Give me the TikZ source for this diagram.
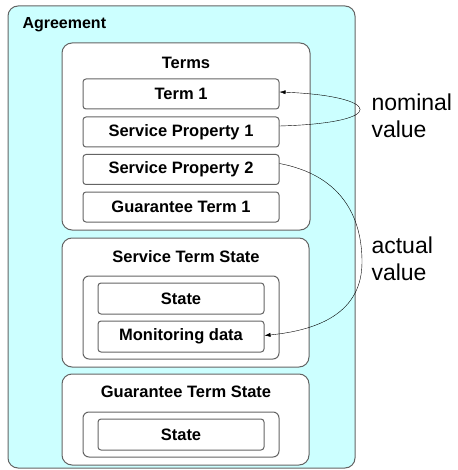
\documentclass[tikz,border=0pt]{standalone}
\usepackage{fontspec}
\setmainfont{Liberation Sans}
\usetikzlibrary{arrows.meta, positioning}
\definecolor{paleaqua}{RGB}{204,255,255}
\definecolor{boxgray}{RGB}{100,100,100}

\begin{document}
\begin{tikzpicture} [%
    x = 1pt, y = -1pt,
    >= { Latex[length=6pt, width=4pt] },
    every node/.style = {%
      font = \fontsize{16.5}{18}\selectfont\bfseries },
    frame/.style = {%
      draw = boxgray,
      line width = 1pt,
      rounded corners = 10pt,
      inner sep = 0pt },
    item/.style = {%
      draw = boxgray,
      line width = 1pt,
      fill = white,
      rounded corners = 3pt,
      minimum width = 166pt,
      minimum height = 31pt,
      inner sep = 0pt },
    note/.style = {%
      font = \fontsize{23}{27}\selectfont,
      align = left,
      anchor = west }
  ]

  \useasboundingbox (0,0) rectangle (457,470);

  % outer agreement
  \node[frame, fill=paleaqua, minimum width=347pt, minimum height=462pt] (A) at (181.5,237) {};
  \node[anchor=west, font=\fontsize{16}{18}\selectfont\bfseries] (AL) at (19,25) {Agreement};

  % terms
  \node[frame, fill=white, minimum width=248pt, minimum height=187pt] (T) at (186,136.5) {};
  \node (TL) at (186,63) {Terms};
  \node[item, minimum width=196pt, minimum height=30pt] (T1) at (181,94) {Term 1};
  \node[item, minimum width=196pt, minimum height=30pt] (SP1) at (181,132) {Service Property 1};
  \node[item, minimum width=196pt, minimum height=30pt] (SP2) at (181,169.5) {Service Property 2};
  \node[item, minimum width=196pt, minimum height=30pt] (GT1) at (181,207) {Guarantee Term 1};

  % service term state
  \node[frame, fill=white, minimum width=247pt, minimum height=129pt] (STS) at (185.5,302.5) {};
  \node (STSL) at (186,257) {Service Term State};
  \node[frame, rounded corners=6pt, fill=white, minimum width=196pt, minimum height=83pt] (STSI) at (181,317.5) {};
  \node[item] (S1) at (181,298.5) {State};
  \node[item] (MD) at (181,336.5) {Monitoring data};

  % guarantee term state
  \node[frame, fill=white, minimum width=247pt, minimum height=91pt] (GTS) at (185.5,419.5) {};
  \node (GTSL) at (186,392) {Guarantee Term State};
  \node[frame, rounded corners=6pt, fill=white, minimum width=196pt, minimum height=45pt] (GTSI) at (181,434.5) {};
  \node[item] (S2) at (181,434.5) {State};

  % values
  \node[note] (NV) at (368,116) {nominal\\value};
  \node[note] (AV) at (368,259) {actual\\value};

  \draw[->, thin] ([yshift=6pt]SP1.east) .. controls (390,123) and (382,96) .. ([yshift=2pt]T1.east);
  \draw[->, thin] ([yshift=6pt]SP2.east) .. controls (340,175) and (362,215) .. (362,262)
    .. controls (362,312) and (320,330) .. ([yshift=1pt]MD.east);

\end{tikzpicture}
\end{document}
